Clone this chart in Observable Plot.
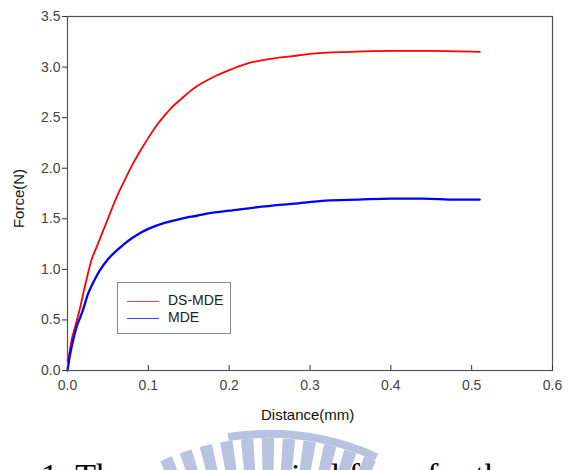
<!DOCTYPE html>
<html>
<head>
<meta charset="utf-8">
<script src="https://cdn.jsdelivr.net/npm/d3@7"></script>
<script src="https://cdn.jsdelivr.net/npm/@observablehq/plot@0.6"></script>
<style>
  html, body { margin: 0; padding: 0; background: #fff; }
  #wrap { position: relative; width: 571px; height: 470px; overflow: hidden; font-family: "Liberation Sans", Arial, sans-serif; }
  #chart { position: absolute; left: 0; top: 0; }
  .lab { position: absolute; color: #111; font-size: 15px; white-space: nowrap; }
  #legend { position: absolute; left: 117px; top: 282px; width: 114px; height: 52px; border: 1px solid #8a8a8a; background: #fff; box-sizing: border-box; }
  .li { position: absolute; left: 9px; height: 16px; font-size: 14px; color: #222; line-height: 16px; }
  .li span.sw { display: inline-block; width: 32px; height: 0; border-top: 1.4px solid; vertical-align: middle; margin-right: 9px; opacity: 0.75; }
  .cap { position: absolute; top: 459px; font-family: "Liberation Serif", "Times New Roman", serif; font-size: 34px; line-height: 34px; color: #000; white-space: nowrap; }
  #wm { position: absolute; left: 0; top: 0; }
</style>
</head>
<body>
<div id="wrap">
  <div id="chart"></div>
  <div class="lab" id="xlab" style="left:261px; top:406px;">Distance(mm)</div>
  <div class="lab" id="ylab" style="left:-11px; top:190px; transform: rotate(-90deg); transform-origin: center;">Force(N)</div>
  <div id="legend"></div>
  <svg id="wm" width="571" height="470"></svg>
  <div class="cap" style="left:41px;">1: The</div>
  <div class="cap" style="left:291px;">ical force for the</div>
</div>
<script>
// ---- data ----
const seriesNames = ["DS-MDE", "MDE"];
const seriesColors = ["#ff0000", "#0000ff"];

const dsmdeDistance = [0, 0.002, 0.005, 0.01, 0.015, 0.02, 0.025, 0.03, 0.035, 0.04, 0.045, 0.05, 0.06, 0.07, 0.08, 0.09, 0.1, 0.11, 0.12, 0.13, 0.14, 0.15, 0.16, 0.18, 0.2, 0.22, 0.25, 0.28, 0.3, 0.35, 0.4, 0.45, 0.51];
const dsmdeForce    = [0.1, 0.16, 0.3, 0.45, 0.6, 0.78, 0.95, 1.1, 1.2, 1.3, 1.4, 1.5, 1.7, 1.87, 2.03, 2.17, 2.3, 2.42, 2.52, 2.61, 2.68, 2.75, 2.81, 2.9, 2.97, 3.03, 3.08, 3.11, 3.13, 3.15, 3.16, 3.16, 3.15];

const mdeDistance = [0, 0.003, 0.007, 0.012, 0.016, 0.02, 0.025, 0.03, 0.035, 0.04, 0.05, 0.06, 0.07, 0.08, 0.09, 0.1, 0.12, 0.14, 0.16, 0.18, 0.2, 0.24, 0.28, 0.32, 0.36, 0.4, 0.44, 0.48, 0.51];
const mdeForce    = [0, 0.15, 0.3, 0.45, 0.53, 0.62, 0.75, 0.84, 0.92, 0.99, 1.1, 1.18, 1.25, 1.31, 1.36, 1.4, 1.46, 1.5, 1.53, 1.56, 1.58, 1.62, 1.65, 1.68, 1.69, 1.70, 1.70, 1.69, 1.69];

const xTicks = [0, 0.1, 0.2, 0.3, 0.4, 0.5, 0.6];
const yTicks = [0, 0.5, 1.0, 1.5, 2.0, 2.5, 3.0, 3.5];

// ---- build tables ----
const dsmde = dsmdeDistance.map((d, i) => ({x: d, y: dsmdeForce[i]}));
const mde = mdeDistance.map((d, i) => ({x: d, y: mdeForce[i]}));
const fmt = d3.format(".1f");

const chart = Plot.plot({
  width: 571,
  height: 430,
  marginLeft: 67,
  marginRight: 19,
  marginTop: 16,
  marginBottom: 60,
  style: {fontFamily: "'Liberation Sans', Arial, sans-serif", fontSize: "14px", color: "#444", background: "white"},
  x: {domain: [0, 0.6]},
  y: {domain: [0, 3.5]},
  marks: [
    Plot.line(dsmde, {x: "x", y: "y", stroke: seriesColors[0], strokeWidth: 1.8, curve: "monotone-x"}),
    Plot.line(mde, {x: "x", y: "y", stroke: seriesColors[1], strokeWidth: 2.3, curve: "monotone-x"}),
    Plot.frame({stroke: "#555", strokeWidth: 1.2}),
    Plot.axisY({ticks: yTicks, tickFormat: fmt, tickSize: 5, tickPadding: 2, label: null, stroke: "#333"}),
    Plot.axisX({ticks: xTicks, tickFormat: fmt, tickSize: -5, tickPadding: 15, label: null, stroke: "#333"})
  ]
});
document.getElementById("chart").appendChild(chart);

// ---- legend ----
const legend = document.getElementById("legend");
seriesNames.forEach((name, i) => {
  const row = document.createElement("div");
  row.className = "li";
  row.style.top = (9 + i * 17) + "px";
  row.innerHTML = `<span class="sw" style="border-color:${seriesColors[i]}"></span>${name}`;
  legend.appendChild(row);
});

// ---- faint watermark (decoration) ----
const wm = d3.select("#wm");
const cx = 268, cy = 700;
const arc = d3.arc();
const stripeAngles = d3.range(-0.40, 0.41, 0.08);
stripeAngles.forEach(a => {
  wm.append("path")
    .attr("transform", `translate(${cx},${cy})`)
    .attr("d", arc({innerRadius: 215, outerRadius: 262, startAngle: a - 0.024, endAngle: a + 0.024}))
    .attr("fill", "#b7c3e0");
});
wm.append("path")
  .attr("transform", `translate(${cx},${cy})`)
  .attr("d", arc({innerRadius: 262, outerRadius: 270, startAngle: -0.15, endAngle: 0.42}))
  .attr("fill", "#b7c3e0");
</script>
</body>
</html>
